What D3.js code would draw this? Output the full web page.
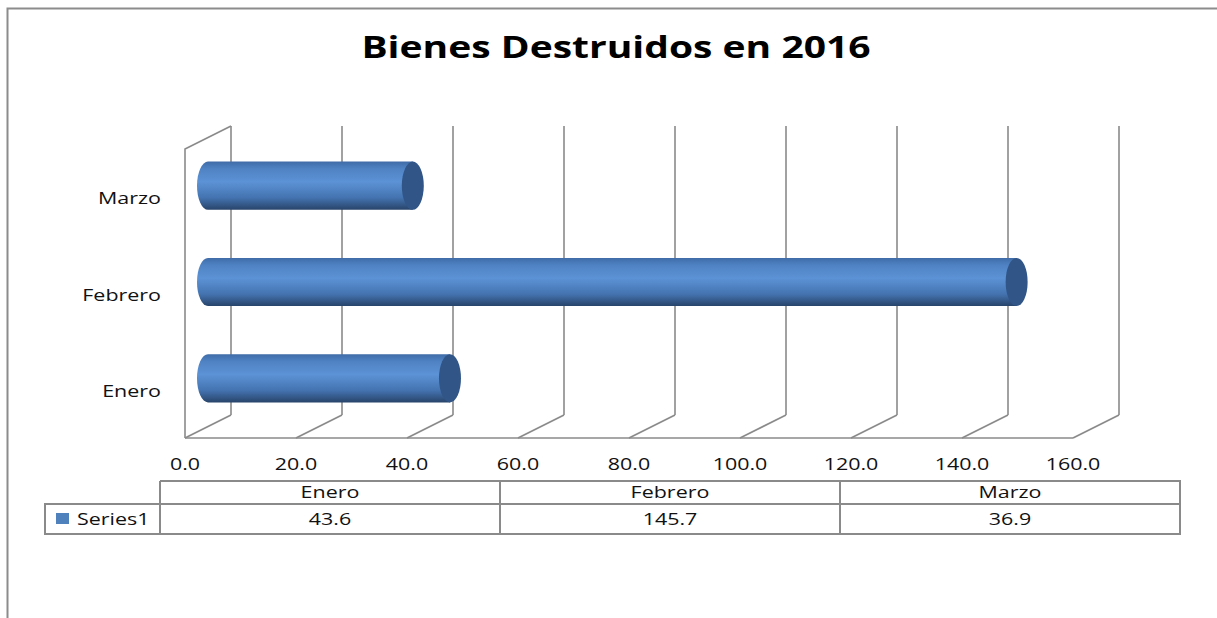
<!DOCTYPE html>
<html>
<head>
<meta charset="utf-8">
<script src="https://cdn.jsdelivr.net/npm/d3@7"></script>
<style>
  body { margin: 0; background: #fff; }
  text { font-family: "Open Sans", sans-serif; fill: #111; }
</style>
</head>
<body>
<div id="chart"></div>
<script>
// Data
const title = "Bienes Destruidos en 2016";
const categories = ["Enero", "Febrero", "Marzo"];
const values = [43.6, 145.7, 36.9];
const seriesName = "Series1";
const tickValues = [0, 20, 40, 60, 80, 100, 120, 140, 160];

const W = 1217, H = 618;
const gridColor = "#8a8a8a";
// 3d depth offset of the back wall
const depth = { dx: 46, dy: -23 };
// Calibri in the original is drawn wide, stretch our font to match
const stretchK = 1.3;

const svg = d3.select("#chart").append("svg")
  .attr("width", W).attr("height", H);

const defs = svg.append("defs");
const grad = defs.append("linearGradient")
  .attr("id", "cyl").attr("x1", 0).attr("y1", 0).attr("x2", 0).attr("y2", 1);
grad.append("stop").attr("offset", "0%").attr("stop-color", "#3f6ca8");
grad.append("stop").attr("offset", "15%").attr("stop-color", "#4f82c3");
grad.append("stop").attr("offset", "42%").attr("stop-color", "#5c93d6");
grad.append("stop").attr("offset", "75%").attr("stop-color", "#4473b0");
grad.append("stop").attr("offset", "100%").attr("stop-color", "#28446a");

function stretch(sel, k) {
  sel.each(function() {
    const w = this.getComputedTextLength();
    this.setAttribute("textLength", w * k);
    this.setAttribute("lengthAdjust", "spacingAndGlyphs");
  });
}

// outer chart border (runs off the right and bottom of the picture)
svg.append("rect")
  .attr("x", 7.5).attr("y", 8.5).attr("width", 1300).attr("height", 700)
  .attr("fill", "none").attr("stroke", "#8c8c8c").attr("stroke-width", 2);

// Title
svg.append("text")
  .attr("x", 616).attr("y", 58)
  .attr("text-anchor", "middle")
  .style("font-size", "30px").style("font-weight", "bold").style("fill", "#000")
  .text(title)
  .call(stretch, 1.3);

// Scales (front plane)
const x = d3.scaleLinear().domain([0, 160]).range([185, 1073]);
const y = d3.scaleBand().domain(categories).range([438, 149]).padding(0);
const barFrac = 0.5;

const grid = svg.append("g")
  .attr("stroke", gridColor).attr("stroke-width", 1.6).attr("fill", "none");

// left wall
const yTop = y.range()[1], yBot = y.range()[0];
grid.append("path")
  .attr("d", `M${x(0)},${yBot} L${x(0)},${yTop} L${x(0) + depth.dx},${yTop + depth.dy}`);

// back wall verticals + floor diagonals
grid.selectAll(".vline").data(tickValues).join("line")
  .attr("class", "vline")
  .attr("x1", d => x(d) + depth.dx).attr("x2", d => x(d) + depth.dx)
  .attr("y1", yBot + depth.dy).attr("y2", yTop + depth.dy);
grid.selectAll(".floor").data(tickValues).join("line")
  .attr("class", "floor")
  .attr("x1", d => x(d)).attr("x2", d => x(d) + depth.dx)
  .attr("y1", yBot).attr("y2", yBot + depth.dy);
grid.append("line")
  .attr("x1", x(0)).attr("x2", x(160)).attr("y1", yBot).attr("y2", yBot);

// X tick labels
svg.append("g").selectAll("text").data(tickValues).join("text")
  .attr("x", d => x(d)).attr("y", 470)
  .attr("text-anchor", "middle")
  .style("font-size", "16.5px")
  .text(d => d3.format(".1f")(d))
  .call(stretch, stretchK);

// Category labels
svg.append("g").selectAll("text").data(categories).join("text")
  .attr("x", 161).attr("y", d => y(d) + y.bandwidth() / 2 + 7)
  .attr("text-anchor", "end")
  .style("font-size", "16.5px")
  .text(d => d)
  .call(stretch, stretchK);

// Cylinders, sitting at half depth
const mx = depth.dx / 2, my = depth.dy / 2;
const r = y.bandwidth() * barFrac / 2;
const rx = 11;
const bars = svg.append("g").selectAll("g").data(categories.map((c, i) => ({ c, v: values[i] }))).join("g");
bars.append("path")
  .attr("fill", "url(#cyl)")
  .attr("d", d => {
    const cy = y(d.c) + y.bandwidth() / 2 + my;
    const x0 = x(0) + mx, x1 = x(d.v) + mx;
    return `M${x0},${cy - r} L${x1},${cy - r} L${x1},${cy + r} L${x0},${cy + r} A${rx},${r} 0 0 1 ${x0},${cy - r} Z`;
  });
bars.append("ellipse")
  .attr("cx", d => x(d.v) + mx)
  .attr("cy", d => y(d.c) + y.bandwidth() / 2 + my)
  .attr("rx", rx).attr("ry", r)
  .attr("fill", "#305586");

// Data table
const tx = d3.scaleBand().domain(categories).range([160, 1180]);
const rowTop = 481, rowMid = 504, rowBot = 534, legendLeft = 45;
const tbl = svg.append("g").attr("stroke", gridColor).attr("stroke-width", 2).attr("fill", "none");
tbl.append("path").attr("d",
  `M${tx.range()[0]},${rowTop} H${tx.range()[1]} V${rowBot} H${legendLeft} V${rowMid} H${tx.range()[1]}`);
tbl.selectAll(".col").data(categories).join("line")
  .attr("class", "col")
  .attr("x1", d => tx(d)).attr("x2", d => tx(d))
  .attr("y1", rowTop).attr("y2", rowBot);

svg.append("g").selectAll("text").data(categories).join("text")
  .attr("x", d => tx(d) + tx.bandwidth() / 2).attr("y", 498)
  .attr("text-anchor", "middle")
  .style("font-size", "16.5px")
  .text(d => d)
  .call(stretch, stretchK);
svg.append("g").selectAll("text").data(values).join("text")
  .attr("x", (d, i) => tx(categories[i]) + tx.bandwidth() / 2).attr("y", 525)
  .attr("text-anchor", "middle")
  .style("font-size", "16.5px")
  .text(d => d3.format(".1f")(d))
  .call(stretch, stretchK);

svg.append("rect")
  .attr("x", 56).attr("y", 513).attr("width", 13).attr("height", 11)
  .attr("fill", "#4f81bd");
svg.append("text")
  .attr("x", 77).attr("y", 525)
  .style("font-size", "16.5px")
  .text(seriesName)
  .call(stretch, stretchK);
</script>
</body>
</html>
